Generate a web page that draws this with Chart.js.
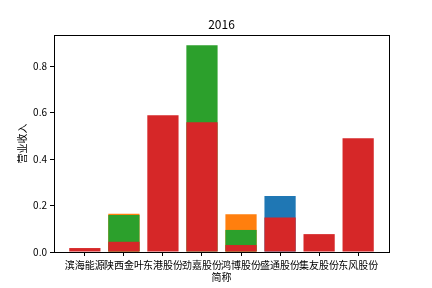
<!DOCTYPE html>
<html>
<head>
<meta charset="utf-8">
<script src="https://cdn.jsdelivr.net/npm/chart.js@4"></script>
<style>
  html, body { margin: 0; padding: 0; background: #fff; }
</style>
</head>
<body>
<canvas id="chart" width="432" height="288"></canvas>
<script>
// companies (x categories)
var names = ['滨海能源', '陕西金叶', '东港股份', '劲嘉股份', '鸿博股份', '盛通股份', '集友股份', '东风股份'];
// four overlapping series, matplotlib default colours
var blueVals   = [null, null, null, null, null, 0.241, null, null];
var orangeVals = [null, 0.165, null, null, 0.163, null, null, null];
var greenVals  = [null, 0.159, null, 0.890, 0.095, null, null, null];
var redVals    = [0.017, 0.044, 0.589, 0.559, 0.030, 0.149, 0.077, 0.490];
var yTicks = [0, 0.2, 0.4, 0.6, 0.8];

function pts(vals) {
  var out = [];
  vals.forEach(function(v, i) {
    if (v !== null) out.push({ x: i, y: v });
  });
  return out;
}

// box around the plot area
var frame = {
  id: 'frame',
  afterDraw: function(chart) {
    var a = chart.chartArea, ctx = chart.ctx;
    ctx.save();
    ctx.strokeStyle = '#000';
    ctx.lineWidth = 1;
    var l = Math.floor(a.left) + 0.5, t = Math.floor(a.top) + 0.5;
    var r = Math.floor(a.right) + 0.5, b = Math.floor(a.bottom) + 0.5;
    ctx.strokeRect(l, t, r - l, b - t);
    ctx.restore();
  }
};

Chart.defaults.font.family = '"Noto Sans CJK SC", "DejaVu Sans", sans-serif';
Chart.defaults.color = '#000';

new Chart(document.getElementById('chart'), {
  type: 'bar',
  data: {
    datasets: [
      { label: 'red', data: pts(redVals), backgroundColor: '#d62728' },
      { label: 'green', data: pts(greenVals), backgroundColor: '#2ca02c' },
      { label: 'orange', data: pts(orangeVals), backgroundColor: '#ff7f0e' },
      { label: 'blue', data: pts(blueVals), backgroundColor: '#1f77b4' }
    ]
  },
  options: {
    responsive: false,
    animation: false,
    layout: { padding: { left: 0, right: 43, top: 0, bottom: 0 } },
    datasets: { bar: { barPercentage: 0.8, categoryPercentage: 1 } },
    plugins: {
      legend: { display: false },
      tooltip: { enabled: false },
      title: {
        display: true,
        text: '2016',
        fullSize: false,
        font: { size: 12, weight: 'normal' },
        padding: { top: 17, bottom: 3.6 }
      }
    },
    scales: {
      x: {
        type: 'linear',
        stacked: true,
        offset: false,
        min: -0.79,
        max: 7.79,
        afterFit: function(s) { s.height = 36; },
        afterBuildTicks: function(s) {
          s.ticks = names.map(function(n, i) { return { value: i }; });
        },
        border: { display: false },
        grid: { display: true, drawOnChartArea: false, offset: false, tickLength: 4, color: '#000' },
        ticks: {
          autoSkip: false,
          maxRotation: 0,
          padding: 3,
          font: { size: 10 },
          callback: function(v) { return names[v]; }
        },
        title: { display: true, text: '简称', font: { size: 10 }, padding: { top: 4, bottom: 4.5 } }
      },
      y: {
        stacked: false,
        min: 0,
        max: 0.9345,
        afterFit: function(s) { s.width = 54; },
        afterBuildTicks: function(s) {
          s.ticks = yTicks.map(function(v) { return { value: v }; });
        },
        border: { display: false },
        grid: { display: true, drawOnChartArea: false, tickLength: 4, color: '#000' },
        ticks: {
          padding: 3,
          font: { size: 10 },
          callback: function(v) { return v.toFixed(1); }
        },
        title: { display: true, text: '营业收入', font: { size: 10 }, padding: { top: 16, bottom: 4 } }
      }
    }
  },
  plugins: [frame]
});
</script>
</body>
</html>
